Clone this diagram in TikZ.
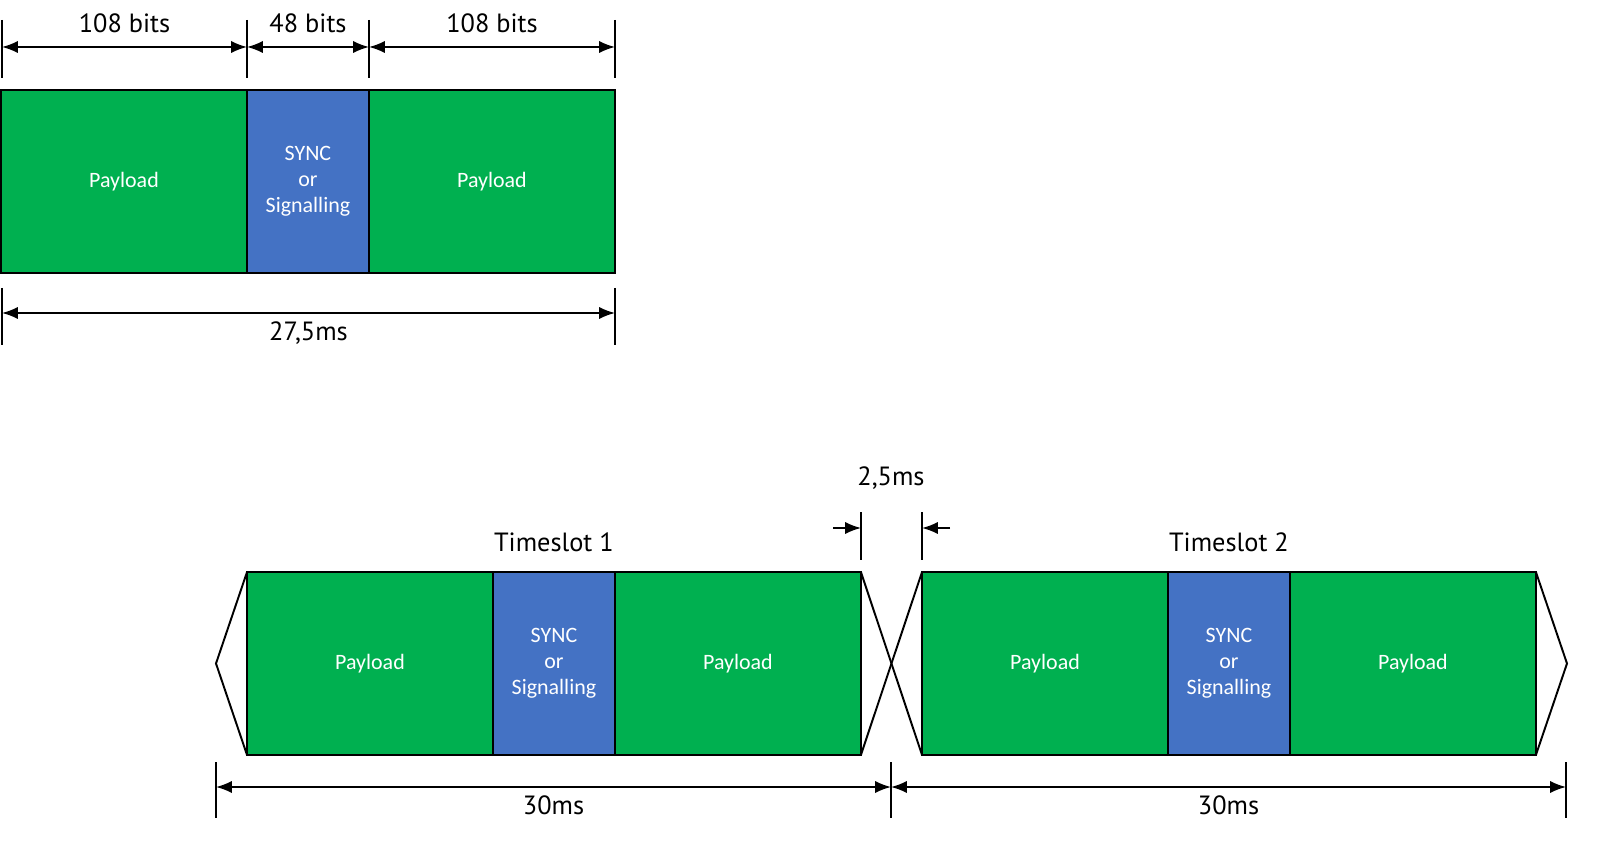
\documentclass[tikz,border=0pt]{standalone}
\usepackage{fontspec}
\setmainfont{Carlito}
\newfontfamily\dimfont{PT Sans}
\usetikzlibrary{positioning,arrows.meta}
\definecolor{slotgreen}{HTML}{00B050}
\definecolor{slotblue}{HTML}{4472C4}
\tikzset{
  field/.style={draw=black, line width=1.1pt, inner sep=0pt, outer sep=0pt, minimum height=3.66cm, text=white, align=center, font=\fontsize{12.5}{14.8}\selectfont},
  payload/.style={field, fill=slotgreen, minimum width=4.92cm},
  syncfield/.style={field, fill=slotblue, minimum width=2.44cm},
  tick/.style={line width=1.4pt},
  dim/.style={line width=1.1pt, {Latex[length=9pt,width=7pt]}-{Latex[length=9pt,width=7pt]}},
  dimlabel/.style={font=\dimfont\fontsize{15}{18}\selectfont},
}
\begin{document}
\begin{tikzpicture}[x=0.02cm, y=-0.02cm]
\useasboundingbox (0,0) rectangle (1600,851);

% Burst

  \node[payload] (pa) at (124,181.5) {Payload};
  \node[syncfield, right=0pt of pa] (sa) {SYNC\\or\\Signalling};
  \node[payload, right=0pt of sa] (pb) {Payload};

  \foreach \x/\n in {2/a0,247/a1,369/a2,615/a3}{
    \draw[tick] (\x,20) -- (\x,78);
    \coordinate (\n) at (\x,47);
  }
  \draw[dim] (a0) -- (a1) node[dimlabel, midway, above=4pt] {108 bits};
  \draw[dim] (a1) -- (a2) node[dimlabel, midway, above=4pt] {48 bits};
  \draw[dim] (a2) -- (a3) node[dimlabel, midway, above=4pt] {108 bits};

  \foreach \x/\n in {2/b0,615/b1}{
    \draw[tick] (\x,288) -- (\x,345);
    \coordinate (\n) at (\x,313);
  }
  \draw[dim] (b0) -- (b1) node[dimlabel, midway, below=1pt] {27,5ms};

% Timeslots

  \node[payload] (pc) at (370,663.5) {Payload};
  \node[syncfield, right=0pt of pc] (sc) {SYNC\\or\\Signalling};
  \node[payload, right=0pt of sc] (pd) {Payload};

  \node[payload] (pe) at (1045,663.5) {Payload};
  \node[syncfield, right=0pt of pe] (se) {SYNC\\or\\Signalling};
  \node[payload, right=0pt of se] (pf) {Payload};

  \node[dimlabel, above=8pt of sc] (ts1) {Timeslot 1};
  \node[dimlabel, above=8pt of se] (ts2) {Timeslot 2};

  \draw[line width=1.1pt] (pc.north west) -- (216,663.5) -- (pc.south west);
  \draw[line width=1.1pt] (pd.north east) -- (pe.south west);
  \draw[line width=1.1pt] (pe.north west) -- (pd.south east);
  \draw[line width=1.1pt] (pf.north east) -- (1567,663.5) -- (pf.south east);

  % guard time
  \foreach \x/\n in {861/g0,922/g1}{
    \draw[tick] (\x,512) -- (\x,560);
    \coordinate (\n) at (\x,528);
  }
  \coordinate (g0l) at (833,528);
  \coordinate (g1r) at (950,528);
  \draw[line width=1.1pt, -{Latex[length=9pt,width=7pt]}] (g0l) -- (g0);
  \draw[line width=1.1pt, -{Latex[length=9pt,width=7pt]}] (g1r) -- (g1);
  \node[dimlabel] (gl) at (891,478) {2,5ms};

  \foreach \x/\n in {216/c0,891/c1,1566/c2}{
    \draw[tick] (\x,762) -- (\x,818);
    \coordinate (\n) at (\x,787);
  }
  \draw[dim] (c0) -- (c1) node[dimlabel, midway, below=1pt] {30ms};
  \draw[dim] (c1) -- (c2) node[dimlabel, midway, below=1pt] {30ms};

\end{tikzpicture}
\end{document}
